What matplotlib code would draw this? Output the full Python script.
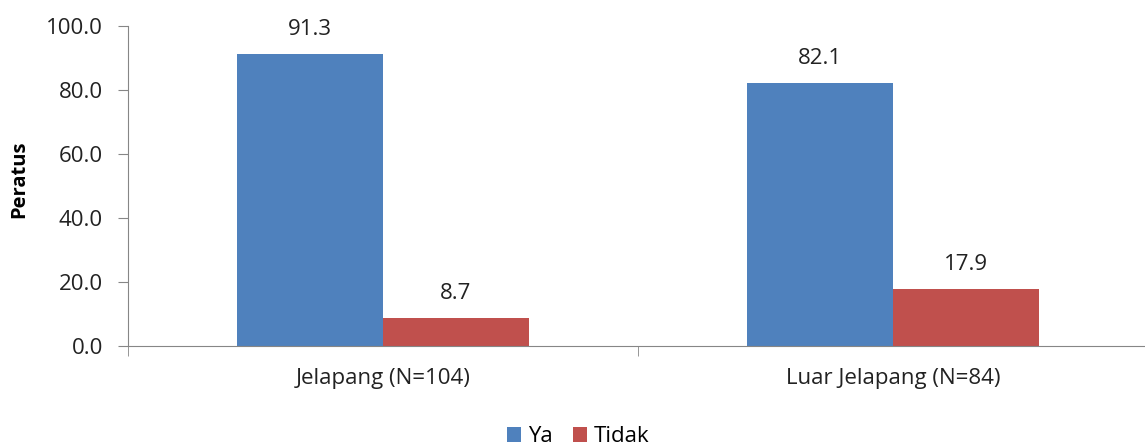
import matplotlib.pyplot as plt
import numpy as np

plt.rcParams['font.family'] = ['Open Sans', 'DejaVu Sans']

categories = ['Jelapang (N=104)', 'Luar Jelapang (N=84)']
ya = [91.3, 82.1]
tidak = [8.7, 17.9]

blue = '#4F81BD'
red = '#C0504D'
axis_grey = '#868686'
txt = '#222222'

fig = plt.figure(figsize=(11.45, 4.46), dpi=100)
ax = fig.add_axes([128 / 1145, 100 / 446, 1020 / 1145, 320 / 446])

x = np.arange(len(categories))
w = 0.286
b1 = ax.bar(x - w / 2, ya, w, color=blue, label='Ya')
b2 = ax.bar(x + w / 2, tidak, w, color=red, label='Tidak')

for bars, vals in ((b1, ya), (b2, tidak)):
    for bar, v in zip(bars, vals):
        ax.annotate(f'{v:.1f}', (bar.get_x() + bar.get_width() / 2, v),
                    xytext=(0, 10), textcoords='offset points',
                    ha='center', va='bottom', fontsize=16, color=txt)

ax.set_xlim(-0.5, 1.5)
ax.set_ylim(0, 100)
ax.set_yticks(np.arange(0, 101, 20))
ax.set_yticklabels([f'{t:.1f}' for t in np.arange(0, 101, 20)])
ax.set_xticks(x)
ax.set_xticklabels(categories)
ax.set_xticks([-0.5, 0.5, 1.5], minor=True)
ax.tick_params(axis='x', which='major', length=0, pad=16, labelsize=16, labelcolor=txt)
ax.tick_params(axis='x', which='minor', length=7, color=axis_grey, direction='out')
ax.tick_params(axis='y', length=7, color=axis_grey, labelsize=16, labelcolor=txt, pad=11)

for s in ('top', 'right'):
    ax.spines[s].set_visible(False)
for s in ('left', 'bottom'):
    ax.spines[s].set_color(axis_grey)

ax.set_ylabel('Peratus', fontsize=14.5, fontweight='bold')
ax.yaxis.set_label_coords(-0.097, 0.52)

fig.legend(handles=[b1, b2], loc='center', bbox_to_anchor=(578 / 1145, 1 - 437 / 446),
           ncol=2, frameon=False, fontsize=16, handlelength=0.65, handleheight=0.65,
           handletextpad=0.3, columnspacing=0.9)

fig.savefig('out.png', dpi=100)
